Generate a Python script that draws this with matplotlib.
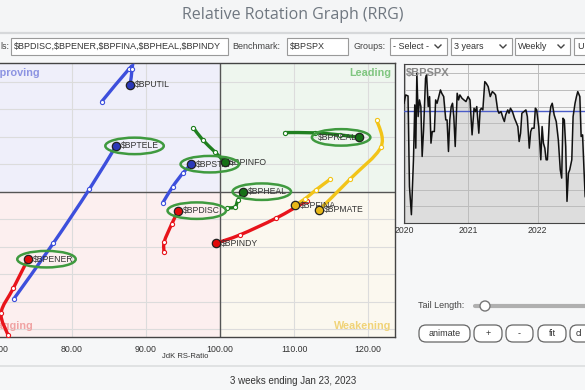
import matplotlib.pyplot as plt
import numpy as np
from matplotlib.path import Path
from matplotlib.patches import PathPatch, Ellipse, Rectangle, FancyBboxPatch

# --- RRG data (JdK RS-Ratio / RS-Momentum), 3 weekly tail points + head ---
names = ["$BPUTIL", "$BPTELE", "$BPSTAP", "$BPINFO", "$BPREAL", "$BPHEAL",
         "$BPDISC", "$BPENER", "$BPINDY", "$BPFINA", "$BPMATE"]
rs_ratio = [
    [84.01, 87.74, 88.11, 87.84],
    [72.16, 77.47, 82.34, 85.95],
    [92.26, 93.61, 95.04, 96.12],
    [96.39, 97.66, 99.32, 100.68],
    [108.78, 112.84, 116.22, 118.82],
    [101.01, 102.03, 102.43, 103.15],
    [92.43, 92.47, 93.47, 94.36],
    [71.35, 70.41, 72.07, 74.05],
    [111.72, 107.57, 102.70, 99.46],
    [114.86, 112.97, 111.49, 110.14],
    [121.18, 121.76, 117.57, 113.42],
]
rs_momentum = [
    [106.57, 108.97, 108.93, 107.80],
    [92.24, 96.27, 100.20, 103.35],
    [99.20, 100.39, 101.41, 102.02],
    [104.68, 103.79, 102.91, 102.16],
    [104.32, 104.30, 104.15, 103.97],
    [98.84, 98.91, 99.42, 100.02],
    [95.66, 96.39, 97.66, 98.64],
    [89.60, 91.20, 93.00, 95.11],
    [99.35, 98.09, 96.88, 96.27],
    [100.91, 100.15, 99.50, 99.02],
    [105.24, 103.28, 100.93, 98.70],
]
quadrant = ["improving", "improving", "improving", "leading", "leading", "leading",
            "lagging", "lagging", "lagging", "weakening", "weakening"]
circled = ["$BPTELE", "$BPSTAP", "$BPHEAL", "$BPREAL", "$BPDISC", "$BPENER"]
label_left = ["$BPREAL"]

# benchmark panel ($BPSPX), weeks since Jan 2020
spx_week = [0, 1.3, 3.1, 4.2, 5.7, 7.3, 8.3, 9.1, 9.9, 10.9, 11.9, 13, 14, 15.1, 16.6,
            17.4, 18.7, 19.7, 20.8, 21.8, 23.4, 24.4, 25.5, 26.5, 28.1, 29.1, 30.6, 32.2,
            33.2, 34.3, 35.3, 36.4, 37.4, 38.4, 39.5, 41, 42.1, 43.1, 44.7, 46.2, 47.8,
            49.4, 50.9, 52.5, 54, 55.1, 56.1, 57.7, 58.7, 59.7, 60.8, 62.3, 63.4, 64.9,
            66.5, 68.1, 69.6, 70.6, 72.2, 73.2, 74.8, 76.4, 77.4, 78.4, 80, 81, 82.1,
            83.6, 85.2, 86.8, 87.8, 88.8, 89.9, 90.9, 92.5, 94, 95.1, 96.6, 97.7, 98.7,
            100.3, 101.3, 102.3, 103.9, 105.5, 106.5, 107.5, 108.6, 109.6, 110.6, 112.2,
            113.2, 114.3, 115.8, 117.4, 119, 120.5, 121.6, 122.6, 123.6, 124.7, 125.7,
            126.8, 127.8, 129.4, 130.4, 131.9, 133, 134, 135.6, 136.6, 137.7, 138.7,
            139.7, 140.8]
spx_value = [36, 38.5, 38.2, 11, 2.5, 19, 35.5, 22.5, 45, 32, 37, 35, 20, 28, 43.5,
             44.5, 35, 38, 24, 27.5, 27.5, 37, 36, 37.5, 40, 39, 38, 31, 31, 21.5, 31,
             35, 36, 32, 23, 39, 37, 38.5, 37.5, 37, 36.5, 38, 37, 26.5, 34.5, 33.5, 35,
             27, 34, 34.5, 34, 42.5, 42, 41, 38, 39.5, 39, 38.5, 34, 33, 33.5, 31.5, 30.5,
             32.5, 34, 33, 34.5, 33.5, 31.5, 30, 29, 24.5, 27, 33, 33.5, 34, 32, 22.5,
             27.5, 28.5, 28.5, 34.5, 34, 29, 19, 29, 24, 22.5, 19, 19, 32, 35, 36, 32.5,
             30.5, 25, 16, 13.5, 31.5, 31, 23, 6.5, 15, 16, 19, 32, 36, 38, 39.5, 38, 26,
             26.5, 17, 8, 7]
spx_ref = 33.7
year_pos = [0.5, 49.5, 103, 156]
year_labels = ["2020", "2021", "2022", "2023"]

line_col = {"improving": "#3d4fdc", "leading": "#1f7f1f",
            "lagging": "#e8141b", "weakening": "#f2c418"}
head_col = {"improving": "#2a38b8", "leading": "#167016",
            "lagging": "#e00a0a", "weakening": "#e8b818"}

W, H = 585, 390
fig = plt.figure(figsize=(W / 100, H / 100), dpi=100)
fig.patch.set_facecolor("#f6f7f8")
plt.rcParams["font.family"] = ["Liberation Sans", "DejaVu Sans"]


def box(l, t, r, b):
    return [l / W, 1 - b / H, (r - l) / W, (b - t) / H]


# ---------------- main RRG axes ----------------
ax = fig.add_axes(box(-17, 63, 395, 337))
xmin, xmax, ymin, ymax = 67.97, 123.65, 89.45, 109.38
ax.set_xlim(xmin, xmax)
ax.set_ylim(ymin, ymax)
ax.add_patch(Rectangle((xmin, 100), 100 - xmin, ymax - 100, color="#efeffa", zorder=0))
ax.add_patch(Rectangle((100, 100), xmax - 100, ymax - 100, color="#eef6ee", zorder=0))
ax.add_patch(Rectangle((xmin, ymin), 100 - xmin, 100 - ymin, color="#fcefef", zorder=0))
ax.add_patch(Rectangle((100, ymin), xmax - 100, 100 - ymin, color="#fbf8ef", zorder=0))
for gx in [70, 80, 90, 110, 120]:
    ax.axvline(gx, color="#dcdcdc", lw=0.8, zorder=1)
for gy in np.arange(90, 110, 2):
    if gy != 100:
        ax.axhline(gy, color="#dcdcdc", lw=0.8, zorder=1)
ax.axvline(100, color="#555555", lw=1.0, zorder=2)
ax.axhline(100, color="#555555", lw=1.0, zorder=2)
for s in ax.spines.values():
    s.set_color("#444444")
    s.set_linewidth(1.0)
ax.set_xticks([70, 80, 90, 100, 110, 120])
ax.set_xticklabels(["70.00", "80.00", "90.00", "100.00", "110.00", "120.00"],
                   fontsize=6.3, color="#333333")
ax.tick_params(axis="x", length=0, pad=6)
ax.set_yticks([])

ax.text(68.5, 109.0, "Improving", color="#8c93e2", fontsize=7.8, fontweight="bold",
        va="top", ha="left", zorder=3)
ax.text(123.2, 109.0, "Leading", color="#80c680", fontsize=7.8, fontweight="bold",
        va="top", ha="right", zorder=3)
ax.text(68.9, 89.9, "Lagging", color="#f0a3a3", fontsize=7.8, fontweight="bold",
        va="bottom", ha="left", zorder=3)
ax.text(123.2, 89.9, "Weakening", color="#f0d378", fontsize=7.8, fontweight="bold",
        va="bottom", ha="right", zorder=3)


def smooth(xs, ys):
    pts = np.column_stack([xs, ys])
    n = len(pts)
    verts = [pts[0]]
    codes = [Path.MOVETO]
    for i in range(n - 1):
        p0, p1, p2 = pts[max(i - 1, 0)], pts[i], pts[i + 1]
        p3 = pts[min(i + 2, n - 1)]
        verts += [p1 + (p2 - p0) / 6, p2 - (p3 - p1) / 6, p2]
        codes += [Path.CURVE4] * 3
    return Path(verts, codes)


for name, xs, ys, q in zip(names, rs_ratio, rs_momentum, quadrant):
    ax.add_patch(PathPatch(smooth(xs, ys), fill=False, edgecolor=line_col[q],
                           lw=2.4, capstyle="round", zorder=4))
    ax.plot(xs[:-1], ys[:-1], "o", ms=3, mfc="white", mec=line_col[q], mew=0.8, zorder=5)
    ax.plot(xs[-1], ys[-1], "o", ms=6, mfc=head_col[q], mec="#222222", mew=0.9, zorder=6)
    if name in label_left:
        ax.annotate(name, (xs[-1], ys[-1]), xytext=(-1.5, 0), textcoords="offset points",
                    ha="right", va="center", fontsize=6.2, color="#333333", zorder=7)
    else:
        ax.annotate(name, (xs[-1], ys[-1]), xytext=(3.5, 0), textcoords="offset points",
                    ha="left", va="center", fontsize=6.2, color="#333333", zorder=5.5)
    if name in circled:
        dx = -2.45 if name in label_left else 2.5
        ax.add_patch(Ellipse((xs[-1] + dx, ys[-1]), 7.9, 1.2, fill=False,
                             edgecolor="#3f9a3f", lw=1.8, zorder=8))

# ---------------- benchmark panel ----------------
bx = fig.add_axes(box(404, 64, 640, 223))
bx.set_facecolor("#f6f6f6")
bx.set_xlim(0, 182)
bx.set_ylim(0, 47.8)
bx.fill_between(spx_week, spx_value, 0, color="#dddddd", zorder=1)
for gy in range(5, 50, 5):
    bx.axhline(gy, color="#bcbcbc", lw=0.7, zorder=2)
for yp in year_pos:
    bx.axvline(yp, color="#bcbcbc", lw=0.7, zorder=2)
bx.axhline(spx_ref, color="#4a5cc8", lw=1.0, zorder=3)
bx.plot(spx_week, spx_value, color="#111111", lw=1.1, zorder=4)
bx.set_xticks(year_pos)
bx.set_xticklabels(year_labels, fontsize=6.2, color="#333333")
bx.tick_params(axis="x", length=0, pad=2)
bx.set_yticks([])
for s in bx.spines.values():
    s.set_color("#444444")
bx.text(1.5, 46.5, "$BPSPX", color="#8a8a8a", fontsize=8, fontweight="bold",
        va="top", ha="left", zorder=5)

# ---------------- page chrome ----------------
ui = fig.add_axes([0, 0, 1, 1], zorder=-1)
ui.set_xlim(0, W)
ui.set_ylim(H, 0)
ui.axis("off")
ui.add_patch(Rectangle((0, 0), W, 32, color="#f4f5f6", zorder=0))
ui.plot([0, W], [33, 33], color="#d6d8da", lw=1.6)
ui.plot([0, W], [366, 366], color="#dcdedf", lw=1.2)

fig.text(293 / W, 1 - 15 / H, "Relative Rotation Graph (RRG)", ha="center", va="center",
         fontsize=11.5, color="#6f7780", family=["Open Sans", "DejaVu Sans"])
fig.text(293 / W, 1 - 381 / H, "3 weeks ending Jan 23, 2023", ha="center", va="center",
         fontsize=7, color="#333333")
fig.text(185 / W, 1 - 357 / H, "JdK RS-Ratio", ha="center", va="center",
         fontsize=5.5, color="#333333")


def field(l, r, text, arrow=False):
    ui.add_patch(Rectangle((l, 38), r - l, 17, facecolor="white", edgecolor="#9a9a9a",
                           lw=0.8, zorder=2))
    t = ui.text(l + 3, 46.5, text, fontsize=6.5, color="#333333", va="center", ha="left",
                zorder=3)
    t.set_clip_path(Rectangle((l, 38), r - l - 1, 17, transform=ui.transData))
    if arrow:
        ui.plot([r - 12, r - 9, r - 6], [45, 48, 45], color="#444444", lw=1.0, zorder=3)


ui.text(0, 46.5, "ls:", fontsize=6.5, color="#444444", va="center")
field(11, 228, "$BPDISC,$BPENER,$BPFINA,$BPHEAL,$BPINDY")
ui.text(232, 46.5, "Benchmark:", fontsize=6.5, color="#444444", va="center")
field(287, 348, "$BPSPX")
ui.text(353, 46.5, "Groups:", fontsize=6.5, color="#444444", va="center")
field(390, 447, "- Select -", arrow=True)
field(451, 512, "3 years", arrow=True)
field(515, 570, "Weekly", arrow=True)
field(574, 590, "U")

ui.text(418, 306, "Tail Length:", fontsize=6.5, color="#444444", va="center")
ui.plot([475, 590], [306, 306], color="#b0b0b0", lw=3, solid_capstyle="round", zorder=2)
ui.add_patch(Ellipse((485, 306), 10, 10, facecolor="white", edgecolor="#777777",
                     lw=1.0, zorder=3))
for l, r, t in [(419, 470, "animate"), (474, 502, "+"), (506, 533, "-"),
                (538, 566, "fit"), (570, 600, "cl")]:
    ui.add_patch(FancyBboxPatch((l, 325), r - l, 17, boxstyle="round,pad=0,rounding_size=7",
                                facecolor="white", edgecolor="#666666", lw=0.9, zorder=2))
    ui.text((l + r) / 2 if t != "cl" else l + 6, 333.5, t, fontsize=6.5, color="#333333",
            ha="center" if t != "cl" else "left", va="center", zorder=3)

fig.savefig("out.png", dpi=100, facecolor=fig.get_facecolor())
